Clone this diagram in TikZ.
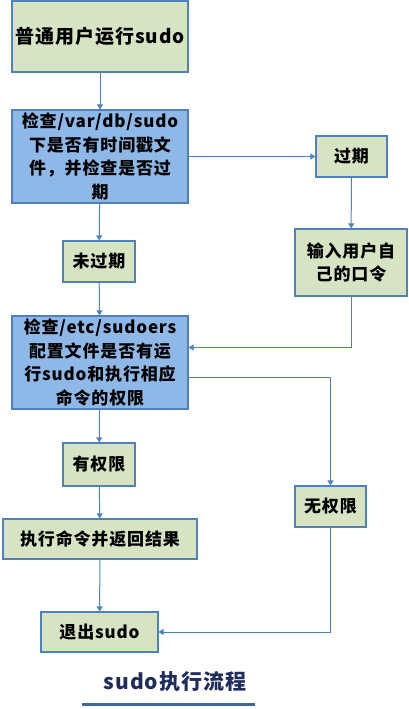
\documentclass[tikz,border=0pt]{standalone}
\usepackage{fontspec}
\setmainfont{Noto Sans CJK SC}[LetterSpace=5]
\usetikzlibrary{arrows.meta,positioning}
\definecolor{boxgreen}{HTML}{D7E4C4}
\definecolor{boxblue}{HTML}{8DB8E8}
\definecolor{edgeblue}{HTML}{4F81BD}
\definecolor{titlenavy}{HTML}{1F2C5C}
\tikzset{
    every node/.style={font=\bfseries\fontsize{17}{23.5}\selectfont},
    green node/.style={draw=edgeblue,line width=1.2pt,fill=boxgreen,align=center,inner sep=0pt},
    blue node/.style={green node,fill=boxblue},
    flow/.style={draw=edgeblue,line width=1pt,-{Triangle[width=6pt,length=5pt]}}
}
\begin{document}
\begin{tikzpicture}[x=1pt,y=1pt]
  \useasboundingbox (0,0) rectangle (408,-709);
  % left column
  \node[green node,minimum width=176,minimum height=71,font=\bfseries\fontsize{19}{23}\selectfont]
    (run) at (100,-36.5) {普通用户运行sudo};
  \node[blue node,minimum width=176,minimum height=93] (stamp) at (100,-156.5)
    {检查/var/db/sudo\\下是否有时间戳文\\件，并检查是否过\\期};
  \node[green node,minimum width=72,minimum height=41] (fresh) at (99,-261.5) {未过期};
  \node[blue node,minimum width=176,minimum height=93] (sudoers) at (100,-362.5)
    {检查/etc/sudoers\\配置文件是否有运\\行sudo和执行相应\\命令的权限};
  \node[green node,minimum width=72,minimum height=43] (allowed) at (99,-464.5) {有权限};
  \node[green node,minimum width=194,minimum height=40] (exec) at (100,-539) {执行命令并返回结果};
  \node[green node,minimum width=117,minimum height=40] (quit) at (99.5,-632) {退出sudo};
  % right column
  \node[green node,minimum width=71,minimum height=41] (expired) at (351.5,-156.5) {过期};
  \node[green node,minimum width=112,minimum height=67] (passwd) at (351,-262.5) {输入用户自\\己的口令};
  \node[green node,minimum width=71,minimum height=41] (denied) at (330.5,-506.5) {无权限};

  \draw[flow] (run) -- (stamp);
  \draw[flow] (stamp) -- (fresh);
  \draw[flow] (fresh) -- (sudoers);
  \draw[flow] (sudoers) -- (allowed);
  \draw[flow] (allowed) -- (exec);
  \draw[flow] (exec) -- (quit);
  \draw[flow] (stamp) -- (expired);
  \draw[flow] (expired) -- (passwd);
  \draw[flow] (passwd.south) |- ([yshift=15]sudoers.east);
  \draw[flow] ([yshift=-15]sudoers.east) -| (denied.north);
  \draw[flow] (denied.south) |- (quit.east);

  % caption
  \node[text=titlenavy,font=\bfseries\fontsize{21}{24}\selectfont] (title) at (175,-682) {sudo执行流程};
  \coordinate (barL) at (82,-704);
  \coordinate (barR) at (255,-704);
  \draw[edgeblue!80!black,line width=3pt] (barL) -- (barR);
\end{tikzpicture}
\end{document}
